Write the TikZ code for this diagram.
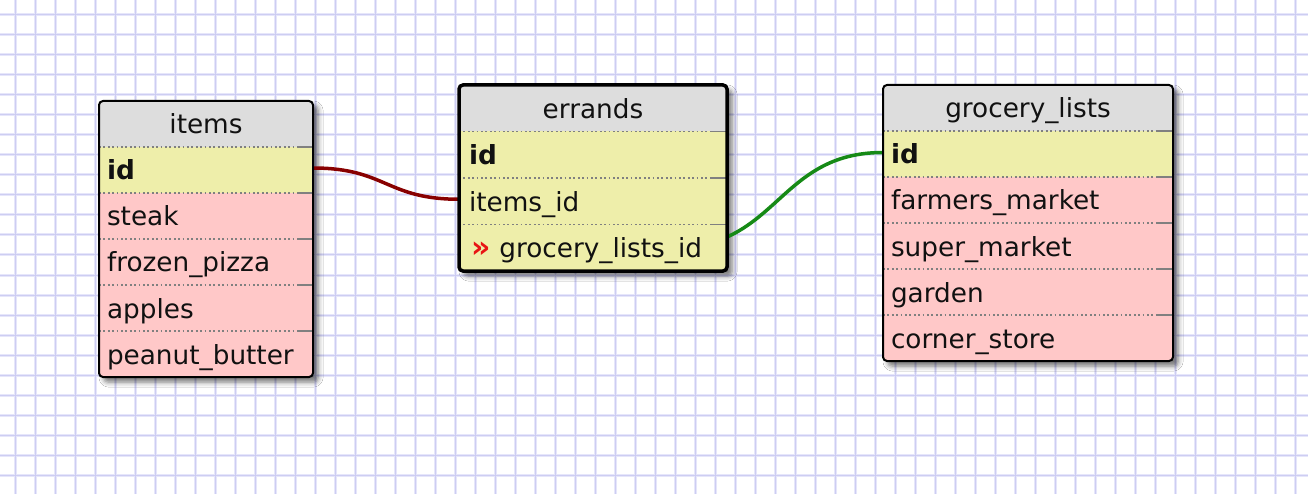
\documentclass[tikz,border=0pt]{standalone}
\usepackage{fontspec}
\setmainfont{DejaVu Sans}
\usetikzlibrary{shadows.blur}

\definecolor{gridhalo}{RGB}{230,230,250}
\definecolor{gridcore}{RGB}{205,205,242}
\definecolor{headc}{RGB}{221,221,221}
\definecolor{keyc}{RGB}{238,238,170}
\definecolor{fieldc}{RGB}{255,200,200}
\definecolor{sepc}{RGB}{128,128,128}
\definecolor{relred}{RGB}{136,0,0}
\definecolor{relgreen}{RGB}{22,138,22}
\definecolor{fkred}{RGB}{232,20,20}
\definecolor{inkc}{RGB}{17,17,17}

\pgfdeclarelayer{paper}
\pgfdeclarelayer{links}
\pgfsetlayers{paper,links,main}

\begin{document}
\begin{tikzpicture}[x=1pt,y=-1pt,
  font=\fontsize{26.3}{30}\selectfont, text=inkc,
  gridA/.style={gridhalo, line width=3pt},
  gridB/.style={gridcore, line width=1pt},
  tableframe/.style={anchor=north west, inner sep=0pt, outer sep=0pt, fill=white,
    rounded corners=4pt,
    blur shadow={shadow xshift=5pt, shadow yshift=-5pt, shadow blur radius=5pt, shadow opacity=55}},
  tblborder/.style={draw=black, line width=2pt, rounded corners=4pt},
  selborder/.style={draw=black, line width=3.5pt, rounded corners=4pt},
  cell/.style={anchor=north west, inner ysep=0pt, outer sep=0pt,
    minimum height=46pt, text height=23pt, text depth=3pt},
  tblhead/.style={cell, inner xsep=0pt, fill=headc, minimum width=#1},
  tblfield/.style={cell, inner xsep=8pt, text width=#1, align=left, fill=fieldc},
  tblkey/.style={tblfield=#1, fill=keyc},
  sepdots/.style={sepc, line width=1.8pt, dash pattern=on 1.8pt off 2.6pt},
  sepend/.style={sepc, line width=1.8pt},
  relation/.style={line width=3.5pt}
]
\useasboundingbox (0,0) rectangle (1308,494);

% squared paper and the table shadows
\begin{pgfonlayer}{paper}
  \fill[white] (0,0) rectangle (1308,494);
  \foreach \x in {15,35,...,1295} \draw[gridA] (\x,0) -- (\x,494);
  \foreach \y in {15,35,...,475} \draw[gridA] (0,\y) -- (1308,\y);
  \foreach \x in {15,35,...,1295} \draw[gridB] (\x,0) -- (\x,494);
  \foreach \y in {15,35,...,475} \draw[gridB] (0,\y) -- (1308,\y);
  \node[tableframe, minimum width=214pt, minimum height=276pt] (items) at (99,101) {};
  \node[tableframe, minimum width=268pt, minimum height=186pt] (errands) at (459,85) {};
  \node[tableframe, minimum width=290pt, minimum height=276pt] (groc) at (883,85) {};
\end{pgfonlayer}

% ---- items ----
\begin{scope}
  \clip[rounded corners=4pt] (items.north west) rectangle (items.south east);
  \node[tblhead=214pt] (items-h) at (99,101) {items};
  \node[tblkey=198pt] (items-id) at (99,147) {\textbf{id}};
  \node[tblfield=198pt] (items-steak) at (99,193) {steak};
  \node[tblfield=198pt] (items-pizza) at (99,239) {frozen\_pizza};
  \node[tblfield=198pt] (items-apples) at (99,285) {apples};
  \node[tblfield=198pt] (items-pb) at (99,331) {peanut\_butter};
  \foreach \n in {items-id,items-steak,items-pizza,items-apples,items-pb} {
    \draw[sepdots] (\n.north west) -- ([xshift=-16pt]\n.north east);
    \draw[sepend] ([xshift=-16pt]\n.north east) -- (\n.north east);
  }
\end{scope}
\draw[tblborder] (items.north west) rectangle (items.south east);

% ---- errands ----
\begin{scope}
  \clip[rounded corners=4pt] (errands.north west) rectangle (errands.south east);
  \node[tblhead=268pt, minimum height=46.5pt] (errands-h) at (459,85) {errands};
  \node[tblkey=248pt, inner xsep=10pt, minimum height=46.5pt] (errands-id) at (459,131.5) {\textbf{id}};
  \node[tblkey=248pt, inner xsep=10pt, minimum height=46.5pt] (errands-items) at (459,178) {items\_id};
  \node[tblkey=248pt, inner xsep=10pt, minimum height=46.5pt] (errands-gl) at (459,224.5)
    {\hspace{2pt}{\fontsize{30}{30}\selectfont\bfseries\color{fkred}»}\hspace{9pt}grocery\_lists\_id};
  \foreach \n in {errands-id,errands-items,errands-gl} {
    \draw[sepdots] (\n.north west) -- ([xshift=-16pt]\n.north east);
    \draw[sepend] ([xshift=-16pt]\n.north east) -- (\n.north east);
  }
\end{scope}
\draw[selborder] (errands.north west) rectangle (errands.south east);

% ---- grocery_lists ----
\begin{scope}
  \clip[rounded corners=4pt] (groc.north west) rectangle (groc.south east);
  \node[tblhead=290pt] (groc-h) at (883,85) {grocery\_lists};
  \node[tblkey=274pt] (groc-id) at (883,131) {\textbf{id}};
  \node[tblfield=274pt] (groc-farm) at (883,177) {farmers\_market};
  \node[tblfield=274pt] (groc-super) at (883,223) {super\_market};
  \node[tblfield=274pt] (groc-garden) at (883,269) {garden};
  \node[tblfield=274pt] (groc-corner) at (883,315) {corner\_store};
  \foreach \n in {groc-id,groc-farm,groc-super,groc-garden,groc-corner} {
    \draw[sepdots] (\n.north west) -- ([xshift=-16pt]\n.north east);
    \draw[sepend] ([xshift=-16pt]\n.north east) -- (\n.north east);
  }
\end{scope}
\draw[tblborder] (groc.north west) rectangle (groc.south east);

% relations, drawn beneath the tables
\begin{pgfonlayer}{links}
  \draw[relation, relred] ([yshift=2pt]items-id.east)
    .. controls +(73,0) and +(-73,0) .. ([yshift=2pt]errands-items.west);
  \draw[relation, relgreen] ([xshift=-54pt]errands-gl.east)
    .. controls +(105,0) and +(-105,0) .. ([yshift=1.5pt]groc-id.west);
\end{pgfonlayer}
\end{tikzpicture}
\end{document}
